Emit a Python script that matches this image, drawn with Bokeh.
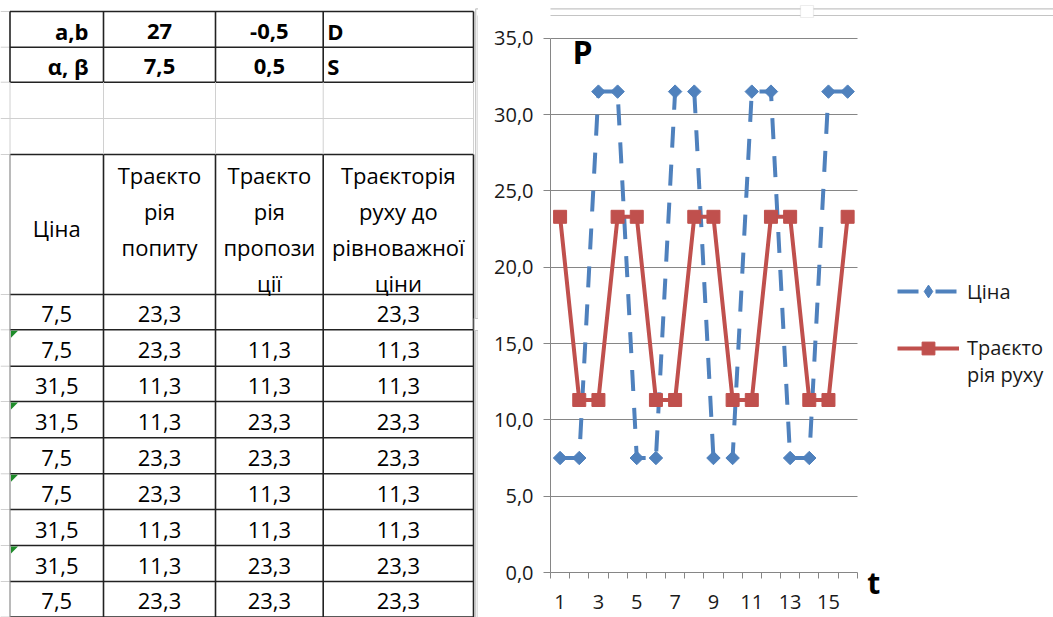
import math

from bokeh.core.properties import value
from bokeh.embed import file_html
from bokeh.layouts import row
from bokeh.models import (Arrow, BoxAnnotation, ColumnDataSource, CustomJSTickFormatter,
                          FixedTicker, Label, Legend, LegendItem, Range1d)
from bokeh.plotting import figure
from bokeh.resources import INLINE

FONT = "Open Sans"

# ---------------------------------------------------------------- data
# cobweb model parameters: demand D = a + b*P, supply S = alpha + beta*P
param_names = ["a,b", "α, β"]
param_first = [27, 7.5]
param_second = [-0.5, 0.5]
param_tags = ["D", "S"]

# header of the worksheet table (each cell wrapped over several lines)
col_headers = [
    ["Ціна"],
    ["Траєкто", "рія", "попиту"],
    ["Траєкто", "рія", "пропози", "ції"],
    ["Траєкторія", "руху до", "рівноважної", "ціни"],
]

# worksheet rows
table_price = [7.5, 7.5, 31.5, 31.5, 7.5, 7.5, 31.5, 31.5, 7.5]
table_demand = [23.3, 23.3, 11.3, 11.3, 23.3, 23.3, 11.3, 11.3, 23.3]
table_supply = [None, 11.3, 11.3, 23.3, 23.3, 11.3, 11.3, 23.3, 23.3]
table_path = [23.3, 11.3, 11.3, 23.3, 23.3, 11.3, 11.3, 23.3, 23.3]

# chart series over time t
t_values = list(range(1, 17))
price_series = [7.5, 7.5, 31.5, 31.5, 7.5, 7.5, 31.5, 31.5,
                7.5, 7.5, 31.5, 31.5, 7.5, 7.5, 31.5, 31.5]
path_series = [23.3, 11.3, 11.3, 23.3, 23.3, 11.3, 11.3, 23.3,
               23.3, 11.3, 11.3, 23.3, 23.3, 11.3, 11.3, 23.3]

series_names = ["Ціна", "\nТраєкто\nрія руху"]
y_ticks = [0, 5, 10, 15, 20, 25, 30, 35]
x_tick_labels = [1, 3, 5, 7, 9, 11, 13, 15]


def fmt(v):
    if v is None:
        return ""
    if isinstance(v, int):
        return str(v)
    return f"{v:.1f}".replace(".", ",")


W, H = 1053, 617
FRAME_GRAY = "#c4c4c4"

# ---------------------------------------------------------------- worksheet table
TW = 478
col_edges = [9.5, 103, 215, 322.7, 473]
row_edges = [11, 46.7, 81.7, 118, 154, 294, 329.3, 365.7, 401, 437.3,
             473.3, 509, 545, 581, 616.5]
col_mid = [(col_edges[i] + col_edges[i + 1]) / 2 for i in range(4)]

tb = figure(width=TW, height=H, x_range=Range1d(0, TW), y_range=Range1d(H, 0),
            output_backend="svg", toolbar_location=None, min_border=0,
            outline_line_color=None, frame_align=False)
tb.axis.visible = False
tb.grid.visible = False

DARK = "#222222"
LIGHT = "#d0d0d0"
nr, nc = len(row_edges), len(col_edges)

# faint worksheet grid to the left of the table
tb.segment(x0=[0] * nr, x1=[col_edges[0]] * nr, y0=row_edges, y1=row_edges,
           line_color=LIGHT, line_width=1)
# horizontal borders
dark_rows = [y for i, y in enumerate(row_edges) if i != 3]
tb.segment(x0=[col_edges[0]] * len(dark_rows), x1=[col_edges[-1]] * len(dark_rows),
           y0=dark_rows, y1=dark_rows, line_color=DARK, line_width=1.6)
tb.segment(x0=[col_edges[0]], x1=[col_edges[-1]], y0=[row_edges[3]], y1=[row_edges[3]],
           line_color=LIGHT, line_width=1)
# vertical borders
tb.segment(x0=col_edges, x1=col_edges, y0=[row_edges[0]] * nc, y1=[row_edges[2]] * nc,
           line_color=DARK, line_width=1.6)
tb.segment(x0=col_edges, x1=col_edges, y0=[row_edges[2]] * nc, y1=[row_edges[4]] * nc,
           line_color=LIGHT, line_width=1)
tb.segment(x0=col_edges[1:], x1=col_edges[1:], y0=[row_edges[4]] * (nc - 1),
           y1=[row_edges[-1]] * (nc - 1), line_color=DARK, line_width=1.6)
tb.segment(x0=[col_edges[0]], x1=[col_edges[0]], y0=[row_edges[4]], y1=[row_edges[-1]],
           line_color="#8c8c8c", line_width=1.2)

# green error markers in the price column
xs, ys = [], []
for r in [6, 8, 10, 12]:
    x0, y0 = col_edges[0] + 1, row_edges[r] + 1
    xs.append([x0, x0 + 7, x0])
    ys.append([y0, y0, y0 + 7])
tb.patches(xs, ys, fill_color="#1e8c2a", line_color=None)

# left part of the chart object's double outline and its side handle
tb.segment(x0=[475.2, 477.6, 475.2, 477.6], x1=[475.2, 477.6, TW, TW],
           y0=[8.3, 15, 8.3, 15], y1=[H, H, 8.3, 15], line_color=FRAME_GRAY, line_width=1.2)
tb.quad(left=[473.8], right=[TW + 2], top=[318], bottom=[330], fill_color="white",
        line_color=FRAME_GRAY, line_width=1.2)

cell_font = "22px"


def cells(x, y, texts, align, bold=False):
    tb.text(x=x, y=y, text=texts, text_align=align, text_baseline="middle",
            text_font=value(FONT), text_font_size=cell_font,
            text_font_style="bold" if bold else "normal", text_color="#000000")


# parameter rows (bold)
pr_y = [row_edges[i + 1] - 16 for i in range(2)]
cells([88, 88], pr_y, param_names, "right", True)
cells([col_mid[1]] * 2, pr_y, [fmt(v) for v in param_first], "center", True)
cells([col_mid[2]] * 2, pr_y, [fmt(v) for v in param_second], "center", True)
cells([col_edges[3] + 4] * 2, pr_y, param_tags, "left", True)

# header cells
hx, hy, ht = [], [], []
for c, lines in enumerate(col_headers):
    ys_ = [227] if len(lines) == 1 else [174 + 36.3 * i for i in range(len(lines))]
    for yy, txt in zip(ys_, lines):
        hx.append(col_mid[c])
        hy.append(yy)
        ht.append(txt)
cells(hx, hy, ht, "center")

# data cells
dx, dy, dt = [], [], []
for i in range(len(table_price)):
    yy = row_edges[6 + i] - 16
    for c, col in enumerate([table_price, table_demand, table_supply, table_path]):
        dx.append(col_mid[c])
        dy.append(yy)
        dt.append(fmt(col[i]))
cells(dx, dy, dt, "center")

# ---------------------------------------------------------------- chart
CW = W - TW
LEFT_B, BOTTOM_B = 550 - TW, 45
frame_w, frame_h = CW - LEFT_B, H - BOTTOM_B
px_per_t = 19.17          # width of one period on the category axis
px_per_p = 15.266         # height of one price unit
x_end = 0.5 + frame_w / px_per_t
y_end = frame_h / px_per_p

p = figure(width=CW, height=H, x_range=Range1d(0.5, x_end), y_range=Range1d(0, y_end),
           output_backend="svg", toolbar_location=None,
           min_border_left=LEFT_B, min_border_right=0, min_border_top=0,
           min_border_bottom=BOTTOM_B, outline_line_color=None, frame_align=False)

AX = "#868686"
p.xgrid.visible = False
p.ygrid.ticker = FixedTicker(ticks=y_ticks)
p.ygrid.grid_line_color = AX
p.ygrid.grid_line_width = 1
p.ygrid.cross_bounds = (0.5, 16.5)

ya = p.yaxis[0]
ya.ticker = FixedTicker(ticks=y_ticks)
ya.bounds = (0, 35)
ya.formatter = CustomJSTickFormatter(code="return tick.toFixed(1).replace('.', ',')")
ya.axis_line_color = AX
ya.major_tick_line_color = AX
ya.major_tick_out = 7
ya.major_tick_in = 0
ya.minor_tick_out = 0
ya.minor_tick_in = 0
ya.major_label_standoff = 10
ya.major_label_text_font = FONT
ya.major_label_text_font_size = "20px"
ya.major_label_text_color = "#1a1a1a"

xa = p.xaxis[0]
xa.ticker = FixedTicker(ticks=x_tick_labels,
                        minor_ticks=[t - 0.5 for t in t_values] + [t_values[-1] + 0.5])
xa.bounds = (0.5, 16.5)
xa.axis_line_color = AX
xa.major_tick_out = 0
xa.major_tick_in = 0
xa.minor_tick_line_color = AX
xa.minor_tick_out = 6
xa.minor_tick_in = 0
xa.major_label_standoff = 16
xa.major_label_text_font = FONT
xa.major_label_text_font_size = "20px"
xa.major_label_text_color = "#1a1a1a"

src = ColumnDataSource(dict(t=t_values, price=price_series, path=path_series))
BLUE, RED = "#4F81BD", "#C0504D"
l1 = p.line("t", "price", source=src, line_color=BLUE, line_width=4, line_dash="21 17")
# diamond key for the legend (the legend draws markers unrotated); on the chart it
# sits hidden under the first rotated-square marker
key1 = p.scatter(x=t_values[:1], y=price_series[:1], marker="diamond", size=8,
                 fill_color=BLUE, line_color=BLUE)
s1 = p.scatter("t", "price", source=src, marker="square", angle=math.pi / 4, size=9.5,
               fill_color=BLUE, line_color=BLUE)
l2 = p.line("t", "path", source=src, line_color=RED, line_width=4)
s2 = p.scatter("t", "path", source=src, marker="square", size=13,
               fill_color=RED, line_color=RED)

legend = Legend(items=[LegendItem(label=series_names[0], renderers=[l1, key1]),
                       LegendItem(label=series_names[1], renderers=[l2, s2])],
                location=(347, 184), padding=0, spacing=-2, glyph_width=62,
                glyph_height=32, label_standoff=8, label_height=32,
                label_text_font=FONT, label_text_font_size="20px",
                label_text_color="#1a1a1a", border_line_alpha=0,
                background_fill_alpha=0)
p.add_layout(legend)

p.add_layout(Label(x=1.65, y=34.1, text="P", text_font=FONT, text_font_size="32px",
                   text_font_style="bold", text_baseline="middle", text_align="left",
                   text_color="#000000"))
# axis name beside the end of the time axis
p.add_layout(Label(x=17.02, y=-0.675, text="t", text_font=FONT, text_font_size="30px",
                   text_font_style="bold", text_baseline="middle", text_align="left",
                   text_color="#000000"), "left")

# top part of the chart object's double outline and its handle
top_src = ColumnDataSource(dict(x0=[0, 0], y0=[8.3, 15], x1=[CW, CW], y1=[8.3, 15]))
p.add_layout(Arrow(start=None, end=None, x_start="x0", y_start="y0", x_end="x1",
                   y_end="y1", start_units="canvas", end_units="canvas", source=top_src,
                   line_color=FRAME_GRAY, line_width=1.2))
p.add_layout(BoxAnnotation(left=800 - TW, right=813 - TW, top=5, bottom=17,
                           left_units="canvas", right_units="canvas", top_units="canvas",
                           bottom_units="canvas", fill_color="white", fill_alpha=1,
                           line_color=FRAME_GRAY, line_width=1.2))

layout = row(tb, p)
open("out.html", "w").write(file_html(layout, INLINE))
